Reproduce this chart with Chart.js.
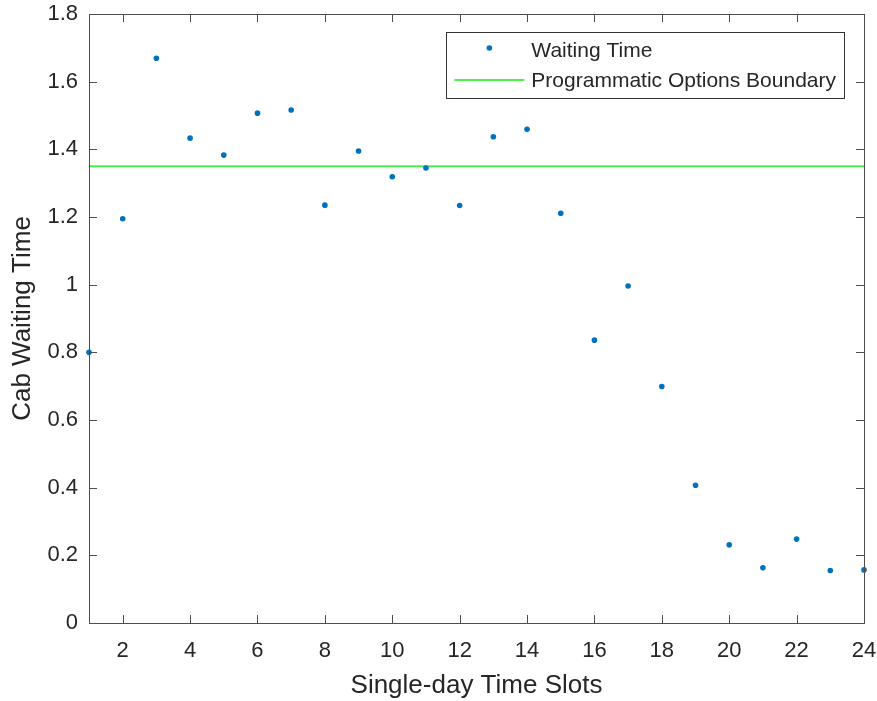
<!DOCTYPE html>
<html>
<head>
<meta charset="utf-8">
<title>Cab Waiting Time</title>
<script src="https://cdn.jsdelivr.net/npm/chart.js@4.4.1/dist/chart.umd.min.js"></script>
<style>
  html, body { margin: 0; padding: 0; background: #fff; }
  canvas { display: block; }
</style>
</head>
<body>
<canvas id="chart" width="877" height="701"></canvas>
<script>
// data
const timeSlots = [1, 2, 3, 4, 5, 6, 7, 8, 9, 10, 11, 12, 13, 14, 15, 16, 17, 18, 19, 20, 21, 22, 23, 24];
const waitingTime = [0.80, 1.195, 1.669, 1.433, 1.383, 1.507, 1.516, 1.235, 1.395, 1.319, 1.345, 1.234,
  1.437, 1.459, 1.211, 0.836, 0.996, 0.699, 0.407, 0.231, 0.163, 0.248, 0.155, 0.157];
const boundary = 1.35;
const xTicks = [2, 4, 6, 8, 10, 12, 14, 16, 18, 20, 22, 24];
const yTicks = [0, 0.2, 0.4, 0.6, 0.8, 1, 1.2, 1.4, 1.6, 1.8];

const FONT = "Arial, 'Liberation Sans', Helvetica, sans-serif";
const AXIS_COLOR = "#4d4d4d";
const TEXT_COLOR = "#262626";

// MATLAB-like box with inward ticks on all four sides
const boxPlugin = {
  id: "box",
  afterDraw(chart) {
    const { ctx, chartArea: a, scales } = chart;
    const len = 8;
    ctx.save();
    ctx.strokeStyle = AXIS_COLOR;
    ctx.lineWidth = 1;
    ctx.beginPath();
    xTicks.forEach(t => {
      const x = Math.round(scales.x.getPixelForValue(t)) + 0.5;
      ctx.moveTo(x, a.bottom); ctx.lineTo(x, a.bottom - len);
      ctx.moveTo(x, a.top); ctx.lineTo(x, a.top + len);
    });
    yTicks.forEach(t => {
      const y = Math.round(scales.y.getPixelForValue(t)) + 0.5;
      ctx.moveTo(a.left, y); ctx.lineTo(a.left + len, y);
      ctx.moveTo(a.right, y); ctx.lineTo(a.right - len, y);
    });
    ctx.stroke();
    ctx.strokeRect(Math.round(a.left) + 0.5, Math.round(a.top) + 0.5,
      Math.round(a.right - a.left), Math.round(a.bottom - a.top));
    ctx.restore();
  }
};

// legend box inside the plot, top right
const legendPlugin = {
  id: "insideLegend",
  afterDraw(chart) {
    const { ctx, chartArea: a } = chart;
    const sets = chart.data.datasets;
    ctx.save();
    ctx.font = "21px " + FONT;
    const textW = Math.max(...sets.map(d => ctx.measureText(d.label).width));
    const rowH = 30;
    const textX = 85;
    const w = textX + textW + 8;
    const h = rowH * sets.length + 6;
    const right = a.right - 20;
    const left = right - w;
    const top = a.top + 18;
    ctx.fillStyle = "#fff";
    ctx.fillRect(left, top, w, h);
    ctx.strokeStyle = "#333";
    ctx.lineWidth = 1;
    ctx.strokeRect(Math.round(left) + 0.5, Math.round(top) + 0.5, Math.round(w), Math.round(h));
    sets.forEach((d, i) => {
      const cy = top + 3 + rowH * i + rowH / 2;
      if (d.showLine) {
        ctx.strokeStyle = d.borderColor;
        ctx.lineWidth = d.borderWidth;
        ctx.beginPath();
        ctx.moveTo(left + 8, cy);
        ctx.lineTo(left + 78, cy);
        ctx.stroke();
      } else {
        ctx.fillStyle = d.backgroundColor;
        ctx.beginPath();
        ctx.arc(left + 43, cy - 2, d.pointRadius, 0, Math.PI * 2);
        ctx.fill();
      }
      ctx.fillStyle = TEXT_COLOR;
      ctx.textBaseline = "middle";
      ctx.textAlign = "left";
      ctx.fillText(d.label, left + textX, cy + 1);
    });
    ctx.restore();
  }
};

const ctx = document.getElementById("chart");
new Chart(ctx, {
  type: "scatter",
  data: {
    datasets: [
      {
        label: "Waiting Time",
        data: timeSlots.map((t, i) => ({ x: t, y: waitingTime[i] })),
        backgroundColor: "#0072BD",
        borderColor: "#0072BD",
        pointRadius: 2.8,
        borderWidth: 0,
        clip: 6
      },
      {
        label: "Programmatic Options Boundary",
        data: [
          { x: timeSlots[0], y: boundary },
          { x: timeSlots[timeSlots.length - 1], y: boundary }
        ],
        showLine: true,
        borderColor: "#4cf04c",
        borderWidth: 2,
        pointRadius: 0
      }
    ]
  },
  options: {
    responsive: false,
    animation: false,
    layout: { padding: { top: 14, right: 13, left: 0, bottom: 0 } },
    plugins: {
      legend: { display: false },
      tooltip: { enabled: false }
    },
    scales: {
      x: {
        type: "linear",
        min: 1,
        max: 24,
        afterBuildTicks: s => { s.ticks = xTicks.map(v => ({ value: v })); },
        afterFit: s => { s.height = 78; s.paddingLeft = 0; s.paddingRight = 0; },
        grid: { display: false, drawTicks: false },
        border: { display: false },
        ticks: {
          padding: 15,
          maxRotation: 0,
          color: TEXT_COLOR,
          font: { family: FONT, size: 22 }
        },
        title: {
          display: true,
          text: "Single-day Time Slots",
          color: TEXT_COLOR,
          font: { family: FONT, size: 26 },
          padding: { top: 0, bottom: 0 }
        }
      },
      y: {
        min: 0,
        max: 1.8,
        afterBuildTicks: s => { s.ticks = yTicks.map(v => ({ value: v })); },
        afterFit: s => { s.width = 89; s.paddingTop = 0; s.paddingBottom = 0; },
        grid: { display: false, drawTicks: false },
        border: { display: false },
        ticks: {
          padding: 11,
          color: TEXT_COLOR,
          font: { family: FONT, size: 22 },
          callback: v => String(v)
        },
        title: {
          display: true,
          text: "Cab Waiting Time",
          color: TEXT_COLOR,
          font: { family: FONT, size: 26 },
          padding: { top: 7, bottom: 0 }
        }
      }
    }
  },
  plugins: [boxPlugin, legendPlugin]
});
</script>
</body>
</html>
